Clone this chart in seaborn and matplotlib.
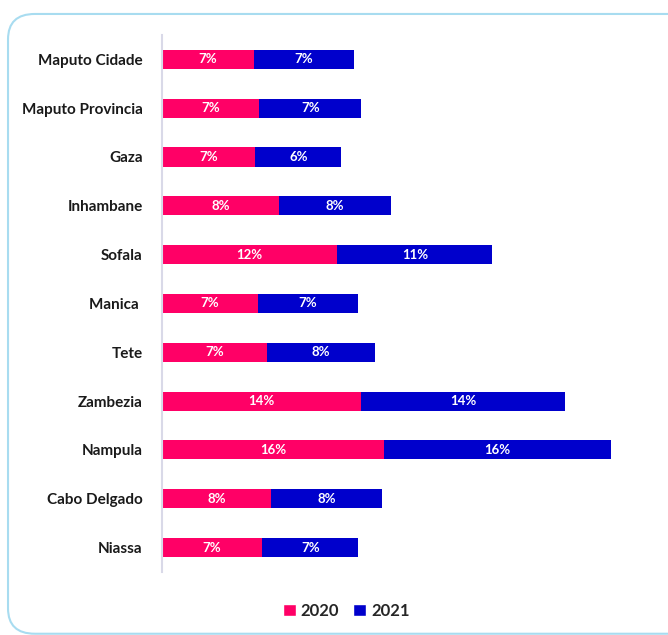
import matplotlib
matplotlib.use("Agg")
import matplotlib.pyplot as plt
import seaborn as sns
import pandas as pd
from matplotlib.patches import FancyBboxPatch, Patch

regions = ["Maputo Cidade", "Maputo Provincia", "Gaza", "Inhambane", "Sofala",
           "Manica ", "Tete", "Zambezia", "Nampula", "Cabo Delgado", "Niassa"]
v2020 = [6.5, 6.9, 6.6, 8.3, 12.4, 6.8, 7.4, 14.1, 15.7, 7.7, 7.1]
v2021 = [7.1, 7.2, 6.1, 7.9, 11.0, 7.1, 7.7, 14.4, 16.1, 7.9, 6.8]
lab2020 = ["7%", "7%", "7%", "8%", "12%", "7%", "7%", "14%", "16%", "8%", "7%"]
lab2021 = ["7%", "7%", "6%", "8%", "11%", "7%", "8%", "14%", "16%", "8%", "7%"]

c2020 = "#FF0066"
c2021 = "#0000CC"

sns.set_style("white")
plt.rcParams['font.family'] = ['Lato', 'DejaVu Sans']

df = pd.DataFrame({"region": regions, "y2020": v2020, "y2021": v2021})
df["total"] = df["y2020"] + df["y2021"]

fig = plt.figure(figsize=(6.68, 6.35), dpi=100)
ax = fig.add_axes([0.2425, 0.0992, 0.74, 0.8458])

sns.barplot(data=df, y="region", x="total", color=c2021, orient="h",
            width=0.39, ax=ax, saturation=1, edgecolor="none")
sns.barplot(data=df, y="region", x="y2020", color=c2020, orient="h",
            width=0.39, ax=ax, saturation=1, edgecolor="none")

ax.set_xlim(0, 35)
ax.set_ylim(10.5, -0.5)
ax.set_xlabel("")
ax.set_ylabel("")
ax.set_xticks([])
for s in ["top", "right", "bottom"]:
    ax.spines[s].set_visible(False)
ax.spines["left"].set_color("#D9D9E8")
ax.spines["left"].set_linewidth(1.5)
ax.tick_params(axis="y", length=0, pad=14)
for t in ax.get_yticklabels():
    t.set_fontweight("bold")
    t.set_fontsize(11)
    t.set_color("#1a1a1a")

for i in range(len(regions)):
    ax.text(v2020[i] / 2, i, lab2020[i], ha="center", va="center",
            color="white", fontweight="bold", fontsize=9.5)
    ax.text(v2020[i] + v2021[i] / 2, i, lab2021[i], ha="center", va="center",
            color="white", fontweight="bold", fontsize=9.5)

handles = [Patch(facecolor=c2020, label="2020"), Patch(facecolor=c2021, label="2021")]
leg = fig.legend(handles=handles, loc="center", bbox_to_anchor=(0.518, 0.038),
                 ncol=2, frameon=False, handlelength=0.8, handleheight=0.8,
                 handletextpad=0.3, columnspacing=0.8,
                 prop={"weight": "bold", "size": 12})

frame = FancyBboxPatch((0.012, 0.002), 1.2, 0.976, transform=fig.transFigure,
                       boxstyle="round,pad=0,rounding_size=0.04",
                       facecolor="none", edgecolor="#A8DCF0", linewidth=1.5,
                       clip_on=False)
fig.patches.append(frame)

fig.savefig("out.png", dpi=100)
